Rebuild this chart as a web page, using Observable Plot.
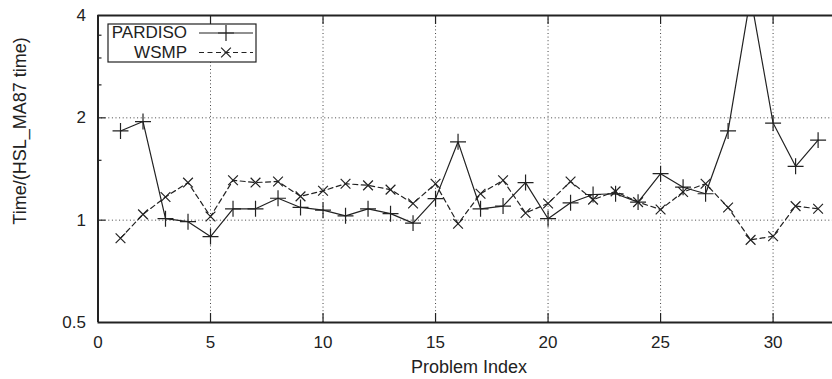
<!DOCTYPE html>
<html>
<head>
<meta charset="utf-8">
<script src="https://cdn.jsdelivr.net/npm/d3@7"></script>
<script src="https://cdn.jsdelivr.net/npm/@observablehq/plot@0.6"></script>
<style>
  html, body { margin: 0; padding: 0; background: #fff; }
  svg { font-family: "Liberation Sans", Arial, Helvetica, sans-serif; }
</style>
</head>
<body>
<div id="chart"></div>
<script>
// ---- data ----
const problems = [1,2,3,4,5,6,7,8,9,10,11,12,13,14,15,16,17,18,19,20,21,22,23,24,25,26,27,28,29,30,31,32];
const pardiso = [1.83,1.95,1.01,0.99,0.895,1.08,1.08,1.16,1.09,1.07,1.03,1.08,1.045,0.98,1.157,1.70,1.08,1.10,1.29,1.01,1.125,1.19,1.196,1.13,1.37,1.25,1.196,1.83,4.55,1.93,1.44,1.72];
const wsmp = [0.885,1.04,1.17,1.29,1.025,1.31,1.29,1.30,1.175,1.22,1.28,1.266,1.23,1.12,1.28,0.976,1.196,1.31,1.05,1.12,1.30,1.149,1.215,1.13,1.075,1.21,1.28,1.09,0.875,0.897,1.10,1.08];
const xTicks = [0,5,10,15,20,25,30];
const xGrid = [5,10,15,20,25,30];
const yTicks = [0.5,1,2,4];
const yGrid = [1,2];
const yMinor = [1.5,2.5,3,3.5];
const seriesNames = ["PARDISO","WSMP"];
const xLabel = "Problem Index";
const yLabel = "Time/(HSL_MA87 time)";

const rowsP = problems.map((p,i) => ({x:p, y:pardiso[i]}));
const rowsW = problems.map((p,i) => ({x:p, y:wsmp[i]}));

const ink = "#222";
const plusR = 5.2;
const timesR = 4.5;

const chart = Plot.plot({
  width: 832,
  height: 379,
  marginLeft: 97.5,
  marginRight: 0,
  marginTop: 15,
  marginBottom: 57,
  x: {domain: [0, 32.64]},
  y: {type: "log", base: 2, domain: [0.5, 4]},
  marks: [
    // grid
    Plot.ruleX(xGrid, {stroke: "#444", strokeWidth: 1, strokeDasharray: "1,2.6"}),
    Plot.ruleY(yGrid, {stroke: "#444", strokeWidth: 1, strokeDasharray: "1,2.6"}),
    // inward ticks
    Plot.tickX(xGrid, {x: d => d, stroke: ink, strokeWidth: 1.2, insetTop: 298}),
    Plot.tickX(xGrid, {x: d => d, stroke: ink, strokeWidth: 1.2, insetBottom: 298}),
    Plot.tickY(yGrid, {y: d => d, stroke: ink, strokeWidth: 1.2, insetRight: 734.5 - 8}),
    Plot.tickY(yMinor, {y: d => d, stroke: ink, strokeWidth: 1.2, insetRight: 734.5 - 4}),
    // axes labels
    Plot.axisX(xTicks, {tickSize: 0, tickPadding: 13, fontSize: 17, fill: ink, label: null}),
    Plot.axisY(yTicks, {tickSize: 0, tickPadding: 12, fontSize: 17, fill: ink, label: null, tickFormat: d => String(d)}),
    // series
    Plot.line(rowsW, {x: "x", y: "y", stroke: ink, strokeWidth: 1.2, strokeDasharray: "5,3.5", clip: true}),
    Plot.dot(rowsW, {x: "x", y: "y", symbol: "times", r: timesR, stroke: ink, strokeWidth: 1.2, clip: true}),
    Plot.line(rowsP, {x: "x", y: "y", stroke: ink, strokeWidth: 1.2, clip: true}),
    Plot.dot(rowsP, {x: "x", y: "y", symbol: "plus", r: plusR, stroke: ink, strokeWidth: 1.2, clip: true}),
    // frame
    Plot.ruleY([0.5, 4], {stroke: ink, strokeWidth: 2}),
    Plot.ruleX([0], {stroke: ink, strokeWidth: 2})
  ]
});
document.getElementById("chart").appendChild(chart);

const svg = d3.select(chart);

// ---- axis titles ----
svg.append("text").attr("x", 469).attr("y", 373).attr("text-anchor", "middle")
  .attr("font-size", 18).attr("fill", ink).text(xLabel);
svg.append("text").attr("transform", "translate(26,131) rotate(-90)").attr("text-anchor", "middle")
  .attr("font-size", 18).attr("fill", ink).text(yLabel);

// ---- legend ----
const g = svg.append("g").attr("class", "legend");
g.append("rect").attr("x", 108).attr("y", 24).attr("width", 148).attr("height", 38)
  .attr("fill", "white").attr("stroke", ink).attr("stroke-width", 1.2);
const rowsY = [33, 52.5];
const symbols = [d3.symbolPlus, d3.symbolTimes];
const radii = [plusR, timesR];
const dashes = [null, "5,3.5"];
seriesNames.forEach((name, i) => {
  g.append("text").attr("x", 187).attr("y", rowsY[i] + 5).attr("text-anchor", "end")
    .attr("font-size", 17).attr("fill", ink).text(name);
  g.append("line").attr("x1", 199).attr("x2", 253).attr("y1", rowsY[i]).attr("y2", rowsY[i])
    .attr("stroke", ink).attr("stroke-width", 1.2).attr("stroke-dasharray", dashes[i]);
  g.append("path").attr("d", d3.symbol(symbols[i], radii[i] * radii[i] * Math.PI)())
    .attr("transform", `translate(226,${rowsY[i]})`)
    .attr("fill", "none").attr("stroke", ink).attr("stroke-width", 1.2);
});
</script>
</body>
</html>
